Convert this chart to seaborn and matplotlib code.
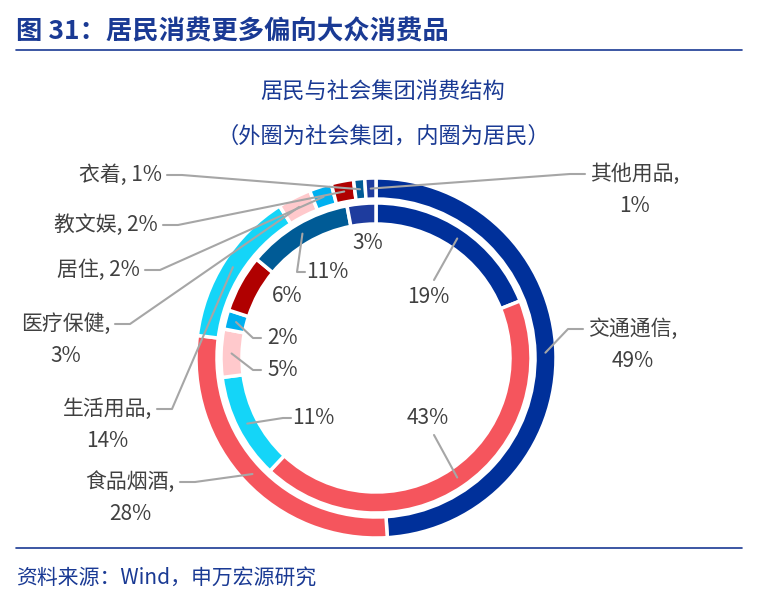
import numpy as np
import matplotlib.pyplot as plt
import seaborn as sns

sns.set_style('white')
plt.rcParams['font.family'] = ['Noto Sans CJK SC', 'DejaVu Sans']

categories = ['交通通信', '食品烟酒', '生活用品', '医疗保健', '居住', '教文娱', '衣着', '其他用品']
outer_vals = [49, 28, 14, 3, 2, 2, 1, 1]   # 社会集团
inner_vals = [19, 43, 11, 5, 2, 6, 11, 3]  # 居民
palette = ['#00309a', '#f5555d', '#14d5f8', '#ffc9cc', '#00b0f0', '#b00000', '#005b96', '#1e3c9e']

W, H = 758, 608
fig = plt.figure(figsize=(W / 100, H / 100), dpi=100)
ax = fig.add_axes([0, 0, 1, 1])

cx, cy = 376, H - 358
R_out, R_in, w = 180, 155, 21

ax.pie(outer_vals, colors=palette, radius=R_out, center=(cx, cy), startangle=90,
       counterclock=False, frame=True,
       wedgeprops=dict(width=w, edgecolor='white', linewidth=2.5))
ax.pie(inner_vals, colors=palette, radius=R_in, center=(cx, cy), startangle=90,
       counterclock=False, frame=True,
       wedgeprops=dict(width=w, edgecolor='white', linewidth=2.5))
ax.set_xlim(0, W)
ax.set_ylim(0, H)
ax.set_aspect('equal')
ax.axis('off')


def mid_points(vals, r):
    cum = np.cumsum([0] + vals)
    pts = []
    for i in range(len(vals)):
        a = np.deg2rad(90 - 360 * (cum[i] + cum[i + 1]) / 2 / sum(vals))
        pts.append((cx + r * np.cos(a), cy + r * np.sin(a)))
    return pts


grey = '#a6a6a6'
txt = '#404040'

# inner ring labels (pixel coords of text)
inner_pos = [(428, 297), (428, 418), (313, 418), (283, 370), (283, 338), (287, 296), (327, 272), (368, 243)]
inner_lines = [True, True, True, True, True, False, True, False]
for p, v, (tx, ty), ln in zip(mid_points(inner_vals, R_in - w / 2), inner_vals, inner_pos, inner_lines):
    ty = H - ty
    ax.text(tx, ty, f'{v}%', fontsize=15, color=txt, ha='center', va='center')
    if not ln:
        continue
    if tx < cx - 20:
        ax.plot([p[0], tx - 30, tx - 22], [p[1], ty, ty], color=grey, lw=1.5)
    else:
        ax.plot([p[0], tx + 6], [p[1], ty + 17 if p[1] > ty else ty - 17], color=grey, lw=1.5)

# outer labels
outer_text = [(588, 345, 'left'), (175, 498, 'right'), (152, 425, 'right'), (110, 340, 'right'),
              (140, 270, 'right'), (158, 225, 'right'), (162, 175, 'right'), (590, 190, 'left')]
for i, (p, v, (tx, ty, ha)) in enumerate(zip(mid_points(outer_vals, R_out - w / 2), outer_vals, outer_text)):
    name = categories[i]
    if name in ['居住', '教文娱', '衣着']:
        label = f'{name}, {v}%'
        ly = ty
    else:
        label = f'{name},\n{v}%'
        ly = ty - 16
    ax.text(tx, H - ty, label, fontsize=15, color=txt, ha=ha,
            va='center', linespacing=1.6, multialignment='center')
    if ha == 'right':
        ax.plot([p[0], tx + 20, tx + 5], [p[1], H - ly, H - ly], color=grey, lw=1.5)
    else:
        ax.plot([p[0], tx - 20, tx - 5], [p[1], H - ly, H - ly], color=grey, lw=1.5)

blue = '#1a3a94'
fig.text(16 / W, 1 - 32 / H, '图 31：居民消费更多偏向大众消费品', fontsize=19, fontweight='bold',
         color=blue, va='center')
fig.add_artist(plt.Line2D([16 / W, 742 / W], [1 - 50 / H, 1 - 50 / H], color=blue, lw=1.2))
fig.text(383 / W, 1 - 92 / H, '居民与社会集团消费结构', fontsize=16, fontweight='medium',
         color=blue, ha='center', va='center')
fig.text(383 / W, 1 - 136 / H, '（外圈为社会集团，内圈为居民）', fontsize=16, fontweight='medium',
         color=blue, ha='center', va='center')
fig.add_artist(plt.Line2D([16 / W, 742 / W], [1 - 548 / H, 1 - 548 / H], color=blue, lw=1.2))
fig.text(16 / W, 1 - 578 / H, '资料来源：Wind，申万宏源研究', fontsize=15, color=blue, va='center')

fig.savefig('out.png', dpi=100)
